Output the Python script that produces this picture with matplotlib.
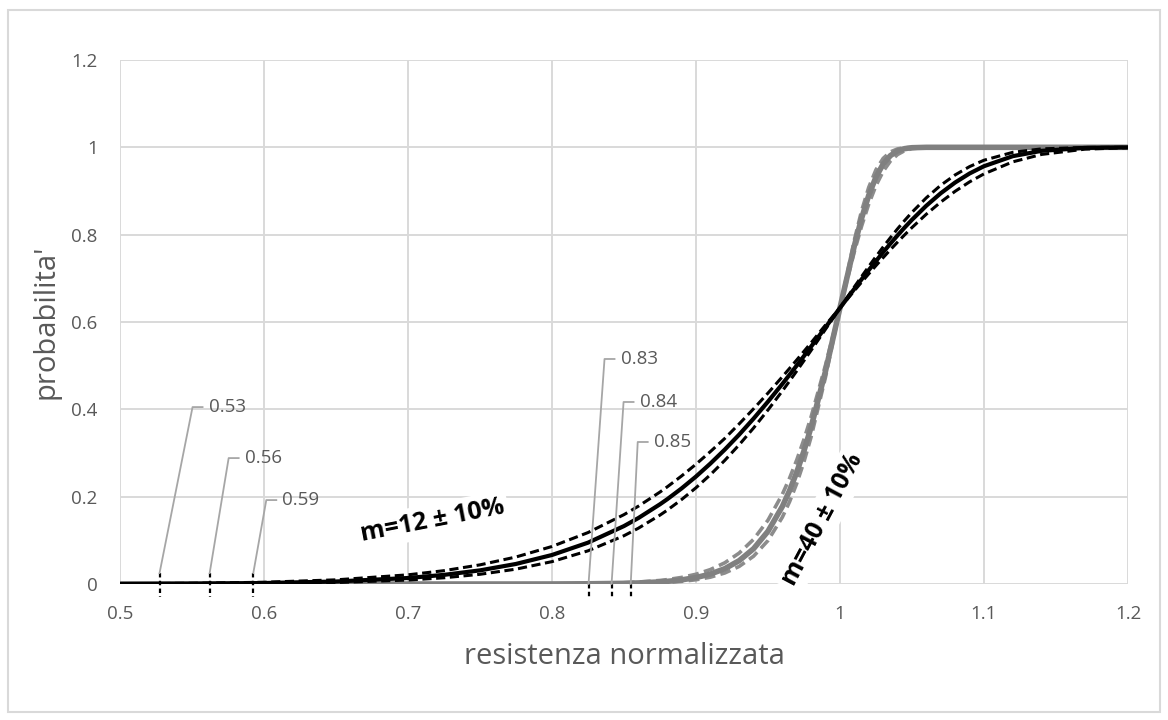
import numpy as np
import matplotlib
matplotlib.use('Agg')
import matplotlib.pyplot as plt
from matplotlib.patches import Rectangle

# resistenza normalizzata (asse x comune a tutte le curve)
x_res = [0.50, 0.55, 0.60, 0.65, 0.70, 0.725, 0.75, 0.775, 0.80, 0.825,
         0.85, 0.86, 0.875, 0.88, 0.89, 0.90, 0.91, 0.92, 0.93, 0.94,
         0.95, 0.96, 0.965, 0.97, 0.975, 0.98, 0.99, 1.00, 1.01, 1.015,
         1.02, 1.025, 1.03, 1.035, 1.04, 1.045, 1.05, 1.06, 1.07, 1.08,
         1.09, 1.10, 1.12, 1.14, 1.17, 1.20]

# probabilita', m=12 +/- 10%
p_m12 = [0.0002, 0.0008, 0.0022, 0.0057, 0.0137, 0.0209, 0.0312, 0.0459, 0.0664, 0.0946,
         0.1326, 0.1510, 0.1825, 0.1940, 0.2188, 0.2460, 0.2757, 0.3077, 0.3420, 0.3787,
         0.4175, 0.4581, 0.4791, 0.5004, 0.5219, 0.5438, 0.5879, 0.6321, 0.6759, 0.6975,
         0.7187, 0.7394, 0.7597, 0.7793, 0.7983, 0.8166, 0.8340, 0.8663, 0.8948, 0.9194,
         0.9400, 0.9567, 0.9797, 0.9919, 0.9986, 0.9999]
p_m12_lo = [0.0006, 0.0016, 0.0040, 0.0095, 0.0210, 0.0305, 0.0438, 0.0618, 0.0859, 0.1177,
            0.1588, 0.1781, 0.2105, 0.2223, 0.2473, 0.2742, 0.3031, 0.3333, 0.3666, 0.4011,
            0.4371, 0.4745, 0.4937, 0.5131, 0.5327, 0.5525, 0.5932, 0.6321, 0.6716, 0.6910,
            0.7102, 0.7290, 0.7474, 0.7654, 0.7829, 0.7998, 0.8162, 0.8469, 0.8746, 0.8993,
            0.9208, 0.9391, 0.9667, 0.9837, 0.9957, 0.9992]
p_m12_hi = [0.0001, 0.0004, 0.0012, 0.0034, 0.0090, 0.0142, 0.0222, 0.0340, 0.0512, 0.0759,
            0.1105, 0.1277, 0.1577, 0.1689, 0.1933, 0.2203, 0.2502, 0.2830, 0.3187, 0.3572,
            0.3984, 0.4420, 0.4647, 0.4878, 0.5113, 0.5351, 0.5835, 0.6321, 0.6803, 0.7039,
            0.7271, 0.7498, 0.7718, 0.7929, 0.8133, 0.8327, 0.8511, 0.8844, 0.9131, 0.9368,
            0.9558, 0.9704, 0.9885, 0.9964, 0.9997, 1.0000]

# m=40 +/- 10%
p_m40 = [0.0, 0.0, 0.0, 0.0, 0.0, 0.0, 0.0, 0.0, 0.0001, 0.0005,
         0.0015, 0.0024, 0.0048, 0.0060, 0.0094, 0.0147, 0.0227, 0.0350, 0.0534, 0.0807,
         0.1206, 0.1775, 0.2138, 0.2560, 0.3046, 0.3596, 0.4878, 0.6321, 0.7744, 0.8370,
         0.8901, 0.9318, 0.9617, 0.9809, 0.9918, 0.9970, 0.9991, 1.0, 1.0, 1.0,
         1.0, 1.0, 1.0, 1.0, 1.0, 1.0]
p_m40_lo = [0.0, 0.0, 0.0, 0.0, 0.0, 0.0, 0.0, 0.0001, 0.0003, 0.0010,
            0.0029, 0.0044, 0.0081, 0.0100, 0.0150, 0.0223, 0.0330, 0.0485, 0.0707, 0.1022,
            0.1460, 0.2055, 0.2422, 0.2840, 0.3310, 0.3832, 0.5016, 0.6321, 0.7609, 0.8190,
            0.8700, 0.9122, 0.9449, 0.9683, 0.9835, 0.9924, 0.9970, 0.9997, 1.0, 1.0,
            1.0, 1.0, 1.0, 1.0, 1.0, 1.0]
p_m40_hi = [0.0, 0.0, 0.0, 0.0, 0.0, 0.0, 0.0, 0.0, 0.0001, 0.0002,
            0.0008, 0.0013, 0.0028, 0.0036, 0.0059, 0.0097, 0.0156, 0.0252, 0.0402, 0.0636,
            0.0994, 0.1529, 0.1882, 0.2303, 0.2798, 0.3371, 0.4741, 0.6321, 0.7876, 0.8542,
            0.9084, 0.9484, 0.9746, 0.9894, 0.9964, 0.9990, 0.9998, 1.0, 1.0, 1.0,
            1.0, 1.0, 1.0, 1.0, 1.0, 1.0]

# quantili 0.001 segnati sull'asse
q_x = [0.5275, 0.5623, 0.5926, 0.8254, 0.8414, 0.8547]
q_lab = ['0.53', '0.56', '0.59', '0.83', '0.84', '0.85']

x_ticks = [0.5, 0.6, 0.7, 0.8, 0.9, 1.0, 1.1, 1.2]
x_ticklabels = ['0.5', '0.6', '0.7', '0.8', '0.9', '1', '1.1', '1.2']
y_ticks = [0, 0.2, 0.4, 0.6, 0.8, 1.0, 1.2]
y_ticklabels = ['0', '0.2', '0.4', '0.6', '0.8', '1', '1.2']

plt.rcParams['font.family'] = ['Open Sans', 'DejaVu Sans']
txt_col = '#595959'
grid_col = '#d9d9d9'

fig = plt.figure(figsize=(11.68, 7.2), dpi=100)
ax = fig.add_axes([0.1027, 0.1889, 0.8630, 0.7278])
fig.patches.append(Rectangle((8/1168, 8/720), 1152/1168, 702/720, transform=fig.transFigure,
                             fill=False, edgecolor=grid_col, lw=1.5))

ax.set_xlim(0.5, 1.2)
ax.set_ylim(0, 1.2)
ax.set_xticks(x_ticks, x_ticklabels)
ax.set_yticks(y_ticks, y_ticklabels)
ax.tick_params(length=0, labelsize=13.5, labelcolor=txt_col)
ax.tick_params(axis='x', pad=15)
ax.tick_params(axis='y', pad=16)
ax.grid(True, color=grid_col, lw=1.4)
ax.set_axisbelow(True)
for s in ax.spines.values():
    s.set_visible(False)
ax.set_xlabel('resistenza normalizzata', fontsize=21, color=txt_col, labelpad=14)
ax.set_ylabel("probabilita'", fontsize=21, color=txt_col, labelpad=8)

# curve grigie (m=40) sotto, nere (m=12) sopra
ax.plot(x_res, p_m40_lo, color='#8c8c8c', lw=2.6, ls=(0, (3, 1.5)))
ax.plot(x_res, p_m40_hi, color='#8c8c8c', lw=2.6, ls=(0, (3, 1.5)))
ax.plot(x_res, p_m40, color='#808080', lw=4.0)
ax.plot(x_res, p_m12_lo, color='black', lw=2.2, ls=(0, (3, 1.5)))
ax.plot(x_res, p_m12_hi, color='black', lw=2.2, ls=(0, (3, 1.5)))
ax.plot(x_res, p_m12, color='black', lw=3.0)

# marcatori dei quantili con etichette e linee guida
ax.figure.canvas.draw()
inv = ax.transData.inverted()
y_top = [0.025, 0.025, 0.025, 0.0, 0.0, 0.0]
lead = [(33, 166), (19, 115), (13, 73), (16, 225), (12, 182), (7, 142)]
for xq, lab, yt, (dx, dy) in zip(q_x, q_lab, y_top, lead):
    ax.plot([xq, xq], [yt, -0.03], color='black', lw=1.6, ls=(0, (2, 1.5)), clip_on=False)
    px, py = ax.transData.transform((xq, yt))
    cx, cy = inv.transform((px + dx, py + dy))
    sx, sy = inv.transform((px + dx + 10, py + dy))
    ax.plot([xq, cx, sx], [yt, cy, sy], color='#a6a6a6', lw=1.3, clip_on=False)
    ax.annotate(lab, (sx, sy), xytext=(6, 0), textcoords='offset pixels',
                va='center', ha='left', fontsize=13.5, color=txt_col)

box = dict(facecolor='white', edgecolor='none', pad=3)
ax.text(0.7167, 0.145, 'm=12 ± 10%', rotation=11, rotation_mode='anchor',
        ha='center', va='center', fontsize=18, fontweight='bold', color='black', bbox=box)
ax.text(0.988, 0.147, 'm=40 ± 10%', rotation=62, rotation_mode='anchor',
        ha='center', va='center', fontsize=18, fontweight='bold', color='black', bbox=box)

fig.savefig('out.png', dpi=100)
